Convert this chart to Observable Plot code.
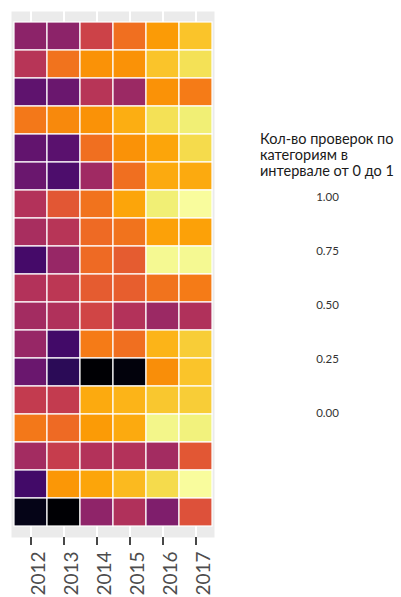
<!DOCTYPE html>
<html>
<head>
<meta charset="utf-8">
<script src="https://cdn.jsdelivr.net/npm/d3@7"></script>
<script src="https://cdn.jsdelivr.net/npm/@observablehq/plot@0.6"></script>
<style>
  html, body { margin: 0; padding: 0; background: #fff; }
  #chart { position: relative; width: 401px; height: 597px; overflow: hidden; font-family: Lato, "Noto Sans", sans-serif; }
  #chart svg { position: absolute; top: 0; }
  #legend-title { position: absolute; left: 260px; top: 131px; font-size: 14.5px; line-height: 15.8px; color: #1a1a1a; white-space: nowrap; }
</style>
</head>
<body>
<div id="chart">
  <div id="legend-title">Кол-во проверок по<br>категориям в<br>интервале от 0 до 1</div>
</div>
<script>
// Years on the x axis
const years = ["2012", "2013", "2014", "2015", "2016", "2017"];

// Inspection categories, top to bottom (names are not shown on the chart)
const categories = [
  "Категория 1", "Категория 2", "Категория 3", "Категория 4", "Категория 5", "Категория 6",
  "Категория 7", "Категория 8", "Категория 9", "Категория 10", "Категория 11", "Категория 12",
  "Категория 13", "Категория 14", "Категория 15", "Категория 16", "Категория 17", "Категория 18"
];

// Normalised number of inspections (0..1) per category, one array per year
const v2012 = [0.38, 0.49, 0.27, 0.70, 0.28, 0.30, 0.48, 0.45, 0.21, 0.48, 0.44, 0.41, 0.30, 0.52, 0.70, 0.44, 0.20, 0.04];
const v2013 = [0.38, 0.69, 0.30, 0.74, 0.26, 0.23, 0.62, 0.49, 0.41, 0.50, 0.47, 0.20, 0.15, 0.52, 0.67, 0.53, 0.77, 0.00];
const v2014 = [0.55, 0.76, 0.49, 0.76, 0.68, 0.43, 0.69, 0.67, 0.67, 0.63, 0.56, 0.71, 0.00, 0.81, 0.78, 0.48, 0.80, 0.39];
const v2015 = [0.68, 0.76, 0.42, 0.82, 0.76, 0.68, 0.80, 0.69, 0.63, 0.64, 0.48, 0.68, 0.02, 0.83, 0.81, 0.48, 0.84, 0.47];
const v2016 = [0.78, 0.86, 0.76, 0.92, 0.80, 0.81, 0.95, 0.79, 0.98, 0.69, 0.42, 0.83, 0.75, 0.87, 0.97, 0.44, 0.91, 0.35];
const v2017 = [0.86, 0.92, 0.71, 0.95, 0.91, 0.81, 0.99, 0.79, 0.98, 0.71, 0.47, 0.88, 0.86, 0.88, 0.96, 0.62, 0.99, 0.60];

// Legend tick values
const legendTicks = [0, 0.25, 0.5, 0.75, 1];

// Long table for the cell mark
const series = [v2012, v2013, v2014, v2015, v2016, v2017];
const cells = [];
years.forEach((year, i) => {
  categories.forEach((category, j) => {
    cells.push({year, category, value: series[i][j]});
  });
});

const chart = document.getElementById("chart");

const heatmap = Plot.plot({
  width: 401,
  height: 597,
  marginLeft: 11,
  marginRight: 187,
  marginTop: 11,
  marginBottom: 60,
  style: {fontFamily: "Lato, 'Noto Sans', sans-serif", background: "transparent"},
  x: {type: "band", domain: years, padding: 0, label: null},
  y: {type: "band", domain: categories, padding: 0, insetTop: 3, insetBottom: 3, axis: null},
  color: {type: "linear", scheme: "inferno", domain: [0, 1]},
  marks: [
    Plot.frame({fill: "#ebebeb", stroke: null}),
    Plot.gridX({stroke: "white", strokeOpacity: 1, strokeWidth: 2}),
    Plot.cell(cells, {x: "year", y: "category", fill: "value", stroke: "white", strokeWidth: 1.2}),
    // tick marks
    Plot.axisX({tickSize: 8, stroke: "#333", strokeWidth: 1.8, fill: "none", label: null}),
    // rotated year labels
    Plot.axisX({tickSize: 0, tickPadding: 14, tickRotate: -90, fontSize: 19, fill: "#4d4d4d", dx: 7.5, label: null})
  ]
});
heatmap.style.left = "0px";
chart.appendChild(heatmap);

// Legend labels placed with their own linear scale
const legend = Plot.plot({
  width: 70,
  height: 597,
  marginTop: 197,
  marginBottom: 184,
  marginLeft: 0,
  marginRight: 0,
  style: {fontFamily: "Lato, 'Noto Sans', sans-serif", background: "transparent"},
  y: {domain: [0, 1], axis: null},
  marks: [
    Plot.text(legendTicks, {y: d => d, text: d => d3.format(".2f")(d), frameAnchor: "middle", fontSize: 11.5, fill: "#333"})
  ]
});
legend.style.left = "292px";
chart.appendChild(legend);
</script>
</body>
</html>
